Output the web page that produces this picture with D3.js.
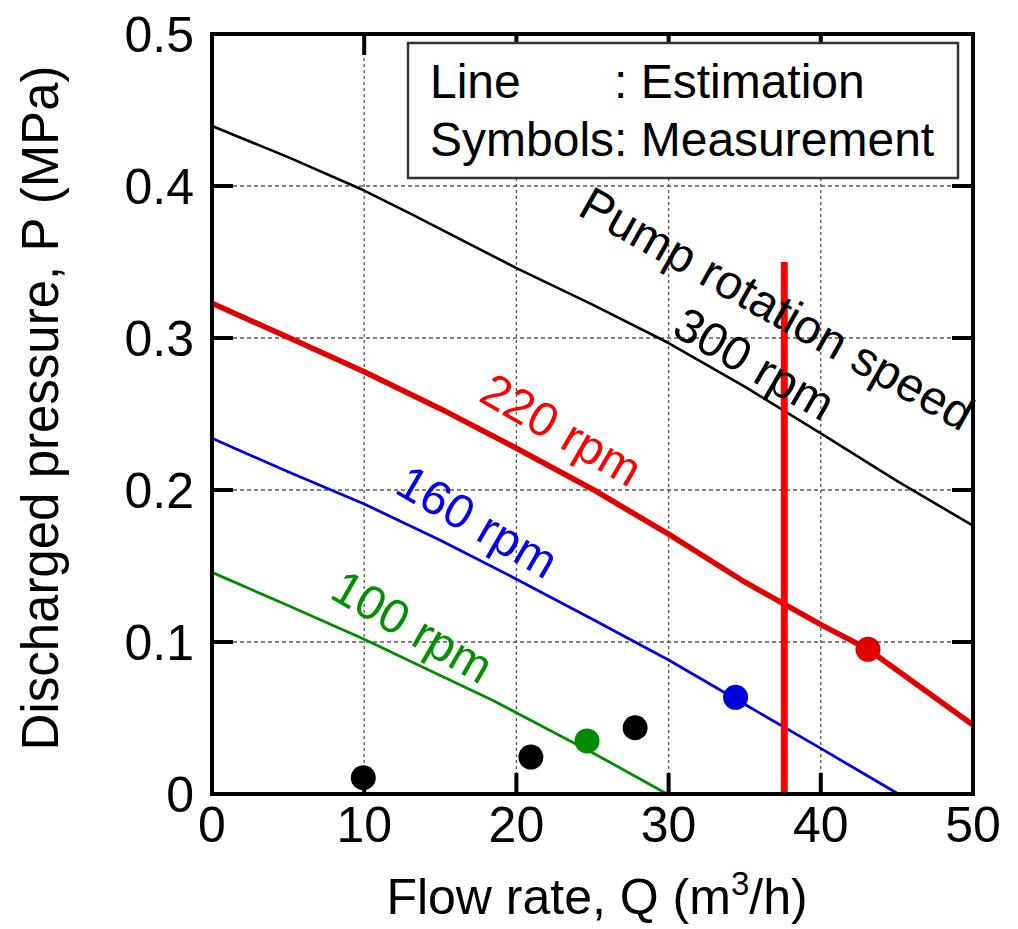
<!DOCTYPE html>
<html>
<head>
<meta charset="utf-8">
<script src="https://cdn.jsdelivr.net/npm/d3@7"></script>
<style>
    body { margin: 0; background: #fff; }
    svg { display: block; font-family: "Liberation Sans", Arial, sans-serif; }
</style>
</head>
<body>
<svg id="chart" width="1018" height="929"></svg>
<script>
// Estimated curves (flow rate m3/h, pressure MPa)
const flow300 = [0, 5, 10, 13, 20, 25, 30, 35, 40, 45, 50];
const p300 = [0.4395, 0.419, 0.397, 0.382, 0.346, 0.322, 0.2967, 0.268, 0.2373, 0.206, 0.1765];

const flow220 = [0, 5, 10, 15, 20, 25, 30, 35, 40, 43.1, 50];
const p220 = [0.3228, 0.3005, 0.2778, 0.2535, 0.2275, 0.2005, 0.171, 0.1395, 0.1114, 0.0952, 0.0454];

const flow160 = [0, 5, 10, 15, 19.7, 25, 30, 35, 40, 45.1];
const p160 = [0.234, 0.212, 0.1908, 0.167, 0.143, 0.115, 0.0882, 0.059, 0.030, 0];

const flow100 = [0, 5, 10, 15, 18.4, 20, 25, 29.9];
const p100 = [0.1458, 0.124, 0.1018, 0.078, 0.0618, 0.0535, 0.0272, 0];

// Measurements
const measFlow = [9.94, 20.95, 27.8, 24.64, 34.4, 43.1];
const measP = [0.0107, 0.0243, 0.0436, 0.0349, 0.0636, 0.0952];
const measGroup = ["none", "none", "none", "100", "160", "220"];

// Operating flow rate marker
const markerFlow = 37.6;
const markerTop = 0.35;

const xTicks = [0, 10, 20, 30, 40, 50];
const yTicks = [0, 0.1, 0.2, 0.3, 0.4, 0.5];

const colors = { "300": "#000000", "220": "#e00000", "160": "#0000dd", "100": "#008c00", "none": "#000000" };

const svg = d3.select("#chart");
const margin = { left: 212, top: 34, right: 45, bottom: 135 };
const width = 1018 - margin.left - margin.right;
const height = 929 - margin.top - margin.bottom;

const g = svg.append("g").attr("transform", "translate(" + margin.left + "," + margin.top + ")");

const x = d3.scaleLinear().domain([0, 50]).range([0, width]);
const y = d3.scaleLinear().domain([0, 0.5]).range([height, 0]);

// grid
g.append("g")
    .selectAll("line")
    .data(xTicks.slice(1, -1))
    .enter().append("line")
    .attr("x1", d => x(d)).attr("x2", d => x(d))
    .attr("y1", 0).attr("y2", height)
    .attr("stroke", "#555").attr("stroke-width", 1.3)
    .attr("stroke-dasharray", "3,3");
g.append("g")
    .selectAll("line")
    .data(yTicks.slice(1, -1))
    .enter().append("line")
    .attr("y1", d => y(d)).attr("y2", d => y(d))
    .attr("x1", 0).attr("x2", width)
    .attr("stroke", "#555").attr("stroke-width", 1.3)
    .attr("stroke-dasharray", "4,3");

// curves
const line = d3.line().x(d => x(d[0])).y(d => y(d[1]));
const curves = [
    { key: "300", xs: flow300, ys: p300, w: 2.6 },
    { key: "220", xs: flow220, ys: p220, w: 5.5 },
    { key: "160", xs: flow160, ys: p160, w: 2.8 },
    { key: "100", xs: flow100, ys: p100, w: 2.8 }
];
g.append("g")
    .selectAll("path")
    .data(curves)
    .enter().append("path")
    .attr("d", d => line(d.xs.map((v, i) => [v, d.ys[i]])))
    .attr("fill", "none")
    .attr("stroke", d => colors[d.key])
    .attr("stroke-width", d => d.w)
    .attr("stroke-linejoin", "round");

// curve labels
const labels = [
    { text: "Pump rotation speed", px: 576, py: 214, a: 29.5, c: "#000" },
    { text: "300 rpm", px: 670, py: 334, a: 30, c: "#000" },
    { text: "220 rpm", px: 477, py: 400, a: 30, c: "#ff0000" },
    { text: "160 rpm", px: 393, py: 492, a: 30, c: "#0000ee" },
    { text: "100 rpm", px: 328, py: 597, a: 30, c: "#009000" }
];
svg.append("g")
    .selectAll("text")
    .data(labels)
    .enter().append("text")
    .attr("transform", d => "translate(" + d.px + "," + d.py + ") rotate(" + d.a + ")")
    .attr("font-size", 48)
    .attr("fill", d => d.c)
    .text(d => d.text);

// vertical marker
g.append("line")
    .attr("x1", x(markerFlow)).attr("x2", x(markerFlow))
    .attr("y1", y(markerTop)).attr("y2", y(0))
    .attr("stroke", "#ff0000").attr("stroke-width", 7);

// measured points
g.append("g")
    .selectAll("circle")
    .data(measFlow)
    .enter().append("circle")
    .attr("cx", d => x(d))
    .attr("cy", (d, i) => y(measP[i]))
    .attr("r", 12.5)
    .attr("fill", (d, i) => colors[measGroup[i]]);

// frame + inward ticks
g.append("rect")
    .attr("width", width).attr("height", height)
    .attr("fill", "none").attr("stroke", "#000").attr("stroke-width", 4);

const tickLen = 21;
const ticks = g.append("g").attr("stroke", "#000").attr("stroke-width", 4);
xTicks.slice(1, -1).forEach(t => {
    ticks.append("line").attr("x1", x(t)).attr("x2", x(t)).attr("y1", height).attr("y2", height - tickLen);
    ticks.append("line").attr("x1", x(t)).attr("x2", x(t)).attr("y1", 0).attr("y2", tickLen);
});
yTicks.slice(1, -1).forEach(t => {
    ticks.append("line").attr("y1", y(t)).attr("y2", y(t)).attr("x1", 0).attr("x2", tickLen);
    ticks.append("line").attr("y1", y(t)).attr("y2", y(t)).attr("x1", width).attr("x2", width - tickLen);
});

// tick labels
g.append("g")
    .selectAll("text")
    .data(xTicks)
    .enter().append("text")
    .attr("x", d => x(d))
    .attr("y", height + 48)
    .attr("text-anchor", "middle")
    .attr("font-size", 50)
    .text(d => d);
g.append("g")
    .selectAll("text")
    .data(yTicks)
    .enter().append("text")
    .attr("x", -18)
    .attr("y", d => y(d) + 18)
    .attr("text-anchor", "end")
    .attr("font-size", 50)
    .text(d => d === 0 ? "0" : d.toFixed(1));

// axis titles
const xt = svg.append("text")
    .attr("x", 597).attr("y", 914)
    .attr("text-anchor", "middle")
    .attr("font-size", 50);
xt.append("tspan").text("Flow rate, Q (m");
xt.append("tspan").attr("font-size", 33).attr("dy", -19).text("3");
xt.append("tspan").attr("dy", 19).text("/h)");

svg.append("text")
    .attr("transform", "translate(58,408) rotate(-90)")
    .attr("text-anchor", "middle")
    .attr("font-size", 51)
    .text("Discharged pressure, P (MPa)");

// legend box
const lg = svg.append("g");
lg.append("rect")
    .attr("x", 408).attr("y", 43)
    .attr("width", 550).attr("height", 135)
    .attr("fill", "#fff").attr("stroke", "#333").attr("stroke-width", 2.5);
lg.append("text").attr("x", 430).attr("y", 98).attr("font-size", 48).text("Line");
lg.append("text").attr("x", 614).attr("y", 98).attr("font-size", 48).text(": Estimation");
lg.append("text").attr("x", 430).attr("y", 156).attr("font-size", 48).text("Symbols: Measurement");
</script>
</body>
</html>
